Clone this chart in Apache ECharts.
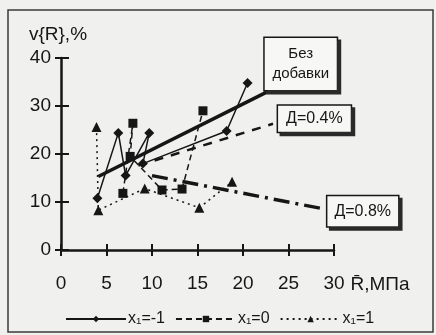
<!DOCTYPE html>
<html>
<head>
<meta charset="utf-8">
<script src="https://cdn.jsdelivr.net/npm/echarts@6/dist/echarts.min.js"></script>
<style>
html,body{margin:0;padding:0;background:#f0f0ee;}
#c{width:436px;height:335px;}
</style>
</head>
<body>
<div id="c"></div>
<script>
// ---- data ----
var xTicks = [0, 5, 10, 15, 20, 25, 30];
var yTicks = [0, 10, 20, 30, 40];
var seriesNames = ['x\u2081=-1', 'x\u2081=0', 'x\u2081=1'];
var xm1 = [[4.0,10.8],[6.3,24.4],[7.1,15.5],[9.7,24.4],[9.0,18.0],[18.2,24.8],[20.5,34.8]];
var x0  = [[6.8,11.8],[7.9,26.4],[7.6,19.5],[11.1,12.5],[13.3,12.7],[15.6,29.0]];
var xp1 = [[3.9,25.6],[4.1,8.3],[9.2,12.8],[15.2,8.8],[18.8,14.2]];
var trendNone = [[4.1,15.3],[22.6,32.9]];
var trend04   = [[8.5,17.6],[23.3,26.3]];
var trend08   = [[10.0,15.5],[28.5,8.7]];
var trendLabels = ['Без\nдобавки', 'Д=0.4%', 'Д=0.8%'];

var ink = '#161616';
var font = 'Liberation Sans, Arial, sans-serif';

function lastLabeled(arr, label) {
  return arr.map(function (p, i) {
    if (i === arr.length - 1) return {value: p, label: label};
    return p;
  });
}
var boxStyle = {
  show: true, color: ink, fontFamily: font, fontSize: 16,
  backgroundColor: '#f7f7f5', borderColor: ink, borderWidth: 1.5,
  shadowColor: '#2a2a2a', shadowOffsetX: 3, shadowOffsetY: 3, shadowBlur: 0
};

var chart = echarts.init(document.getElementById('c'));
var axisCommonX = {type: 'value', min: xTicks[0], max: xTicks[xTicks.length-1], interval: 5};
var axisCommonY = {type: 'value', min: yTicks[0], max: yTicks[yTicks.length-1], interval: 10};

chart.setOption({
  backgroundColor: '#f0f0ee',
  animation: false,
  graphic: [{
    type: 'rect', shape: {x: 8, y: 10, width: 425, height: 322},
    style: {fill: 'none', stroke: '#3a3a3a', lineWidth: 1.5}, silent: true
  }],
  grid: {left: 61, right: 102, top: 58, bottom: 85},
  legend: {
    data: seriesNames, left: 60, top: 306, itemWidth: 60, itemHeight: 8, itemGap: 10,
    textStyle: {color: ink, fontFamily: font, fontSize: 16, padding: [0,0,0,-3]}
  },
  xAxis: [
    Object.assign({}, axisCommonX, {
      name: 'R\u0304,МПа', nameLocation: 'end', nameGap: 15,
      nameTextStyle: {color: ink, fontFamily: font, fontSize: 19, verticalAlign: 'top', align: 'left', padding: [25,0,0,0]},
      axisLine: {lineStyle: {color: ink, width: 2.5}},
      axisTick: {show: true, length: 6, lineStyle: {color: ink, width: 2}},
      axisLabel: {color: ink, fontFamily: font, fontSize: 19, margin: 24},
      splitLine: {show: false}
    }),
    Object.assign({}, axisCommonX, {
      position: 'bottom', axisLine: {show: false},
      axisTick: {show: true, inside: true, length: 6, lineStyle: {color: ink, width: 2}},
      axisLabel: {show: false}, splitLine: {show: false}
    })
  ],
  yAxis: [
    Object.assign({}, axisCommonY, {
      name: 'v{R},%', nameLocation: 'end', nameGap: 14,
      nameTextStyle: {color: ink, fontFamily: font, fontSize: 19, align: 'center', verticalAlign: 'bottom', padding: [0,0,0,-6]},
      axisLine: {show: true, lineStyle: {color: ink, width: 2.5}},
      axisTick: {show: true, length: 6, lineStyle: {color: ink, width: 2}},
      axisLabel: {color: ink, fontFamily: font, fontSize: 19, margin: 10},
      splitLine: {show: false}
    }),
    Object.assign({}, axisCommonY, {
      position: 'left', axisLine: {show: false},
      axisTick: {show: true, inside: true, length: 8, lineStyle: {color: ink, width: 2}},
      axisLabel: {show: false}, splitLine: {show: false}
    })
  ],
  series: [
    {name: seriesNames[0], type: 'line', data: xm1, symbol: 'diamond', symbolSize: 10,
     lineStyle: {color: ink, width: 1.5, type: 'solid'}, itemStyle: {color: ink}, z: 3},
    {name: seriesNames[1], type: 'line', data: x0, symbol: 'rect', symbolSize: 9,
     lineStyle: {color: ink, width: 1.5, type: [6,4]}, itemStyle: {color: ink}, z: 3},
    {name: seriesNames[2], type: 'line', data: xp1, symbol: 'triangle', symbolSize: 10,
     lineStyle: {color: ink, width: 1.5, type: [2,4]}, itemStyle: {color: ink}, z: 3},
    {name: 'trendNone', type: 'line', symbol: 'circle', symbolSize: 0.1, showSymbol: true,
     lineStyle: {color: ink, width: 3.5}, itemStyle: {color: ink}, z: 4,
     data: lastLabeled(trendNone, Object.assign({}, boxStyle, {
       position: 'right', distance: 0, verticalAlign: 'bottom', offset: [-2,-2],
       padding: [6,5], lineHeight: 20, fontSize: 15,
       formatter: '{a|Без}\n{a|добавки}',
       rich: {a: {width: 62, align: 'center', fontSize: 15, lineHeight: 20, fontFamily: font, color: ink}}
     }))},
    {name: 'trend04', type: 'line', symbol: 'circle', symbolSize: 0.1, showSymbol: true,
     lineStyle: {color: ink, width: 2.5, type: [9,8]}, itemStyle: {color: ink}, z: 4,
     data: lastLabeled(trend04, Object.assign({}, boxStyle, {
       position: 'right', distance: 5, verticalAlign: 'middle', offset: [0,-5],
       padding: [5,8], formatter: trendLabels[1]
     }))},
    {name: 'trend08', type: 'line', symbol: 'circle', symbolSize: 0.1, showSymbol: true,
     lineStyle: {color: ink, width: 3.5, type: [16,6,3,6]}, itemStyle: {color: ink}, z: 4,
     data: lastLabeled(trend08, Object.assign({}, boxStyle, {
       position: 'right', distance: 7, verticalAlign: 'middle', offset: [0,3],
       padding: [7,7], formatter: trendLabels[2]
     }))}
  ]
});
</script>
</body>
</html>
